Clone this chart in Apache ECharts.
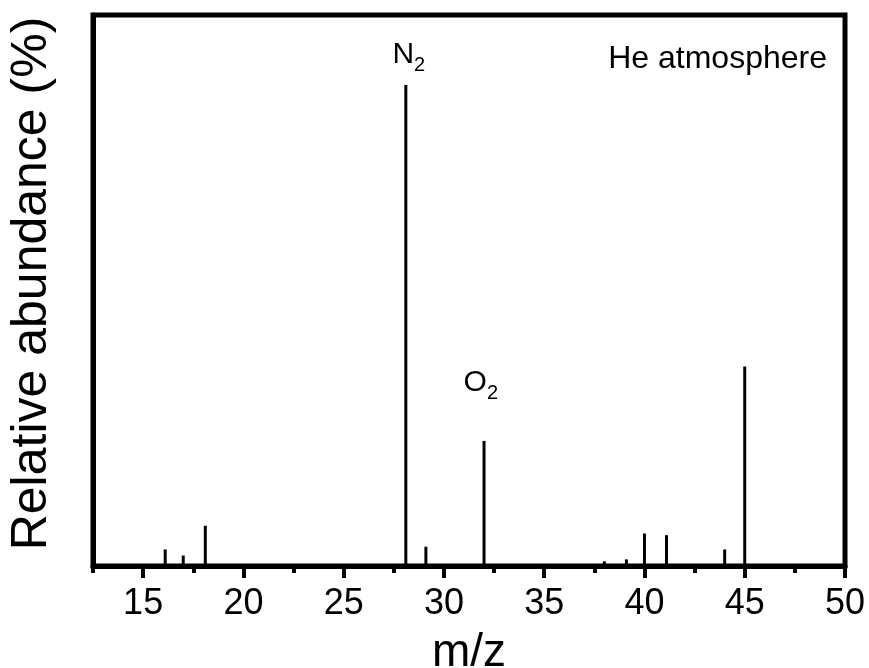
<!DOCTYPE html>
<html>
<head>
<meta charset="utf-8">
<script src="https://cdn.jsdelivr.net/npm/echarts@6/dist/echarts.min.js"></script>
<style>
html,body{margin:0;padding:0;background:#fff;}
#chart{width:869px;height:668px;}
</style>
</head>
<body>
<div id="chart"></div>
<script>
// m/z positions of the peaks and their relative abundances
const mz = [16.1, 17.0, 18.1, 28.1, 29.1, 32.0, 38.0, 39.1, 40.0, 41.1, 44.0, 45.0];
const abundance = [3.0, 1.9, 7.3, 87.3, 3.5, 22.7, 0.85, 1.2, 5.9, 5.6, 3.0, 36.2];
// x-axis tick labels
const xTicks = [15, 20, 25, 30, 35, 40, 45, 50];
// peak annotations: position, main text, subscript
const annotX = [28.25, 31.84];
const annotY = [92.7, 33.2];
const annotMain = ['N', 'O'];
const annotSub = ['2', '2'];
const noteText = 'He atmosphere';

const FONT = 'Liberation Sans, Arial, sans-serif';
const X_MIN = 12.5, X_MAX = 50;
const G_LEFT = 93, G_RIGHT = 24, G_TOP = 15, G_BOTTOM = 102, W = 869;
// second grid starts exactly at the first labelled tick (15), same scale
const G2_LEFT = G_LEFT + (xTicks[0] - X_MIN) / (X_MAX - X_MIN) * (W - G_LEFT - G_RIGHT);

const chart = echarts.init(document.getElementById('chart'));

const barData = mz.map((m, i) => [m, abundance[i]]);
const annData = annotX.map((x, i) => ({
  value: [x, annotY[i]],
  label: { formatter: '{n|' + annotMain[i] + '}{s|' + annotSub[i] + '}' }
}));

chart.setOption({
  animation: false,
  backgroundColor: '#fff',
  grid: [
    {
      left: G_LEFT, right: G_RIGHT, top: G_TOP, bottom: G_BOTTOM,
      outerBoundsMode: 'none', containLabel: false,
      show: true, borderColor: '#000', borderWidth: 5, backgroundColor: 'transparent'
    },
    {
      left: G2_LEFT, right: G_RIGHT, top: G_TOP, bottom: G_BOTTOM,
      outerBoundsMode: 'none', containLabel: false, show: false
    }
  ],
  xAxis: [
    {
      gridIndex: 0,
      type: 'value',
      min: X_MIN, max: X_MAX,
      interval: 2.5,
      name: 'm/z',
      nameLocation: 'middle',
      nameGap: 64,
      nameTextStyle: { fontSize: 46, fontFamily: FONT, color: '#000' },
      axisLine: { show: true, onZero: false, lineStyle: { color: '#000', width: 5 } },
      axisTick: { show: true, length: 7, inside: false, lineStyle: { color: '#000', width: 4 } },
      axisLabel: { show: false },
      splitLine: { show: false }
    },
    {
      gridIndex: 1,
      type: 'value',
      min: xTicks[0], max: xTicks[xTicks.length - 1],
      interval: 5,
      axisLine: { show: false, onZero: false },
      axisTick: { show: true, length: 12, inside: false, lineStyle: { color: '#000', width: 4 } },
      axisLabel: { fontSize: 36, fontFamily: FONT, color: '#000', margin: 20 },
      splitLine: { show: false }
    }
  ],
  yAxis: [
    {
      gridIndex: 0,
      type: 'value',
      min: 0, max: 100,
      name: 'Relative abundance (%)',
      nameLocation: 'middle',
      nameGap: 36,
      nameTextStyle: { fontSize: 50, fontFamily: FONT, color: '#000', padding: [0, 0, 0, 14] },
      axisLine: { show: true, lineStyle: { color: '#000', width: 5 } },
      axisTick: { show: false },
      axisLabel: { show: false },
      splitLine: { show: false }
    },
    {
      gridIndex: 1,
      type: 'value', min: 0, max: 100, show: false
    }
  ],
  series: [
    {
      type: 'bar',
      xAxisIndex: 0, yAxisIndex: 0,
      data: barData,
      barWidth: 3,
      itemStyle: { color: '#000' },
      silent: true
    },
    {
      type: 'scatter',
      xAxisIndex: 0, yAxisIndex: 0,
      data: annData,
      symbolSize: 0,
      itemStyle: { color: '#000', opacity: 1 },
      silent: true,
      label: {
        show: true,
        position: 'inside',
        color: '#000',
        opacity: 1,
        textBorderWidth: 0,
        fontFamily: FONT,
        rich: {
          n: { fontSize: 30, lineHeight: 40, fontFamily: FONT, color: '#000', textBorderWidth: 0 },
          s: { fontSize: 20, lineHeight: 20, verticalAlign: 'bottom', fontFamily: FONT, color: '#000', textBorderWidth: 0 }
        }
      }
    }
  ],
  graphic: [
    {
      type: 'text',
      right: 42, top: 43,
      style: { text: noteText, fontSize: 32, fontFamily: FONT, fill: '#000' }
    }
  ]
});
</script>
</body>
</html>
